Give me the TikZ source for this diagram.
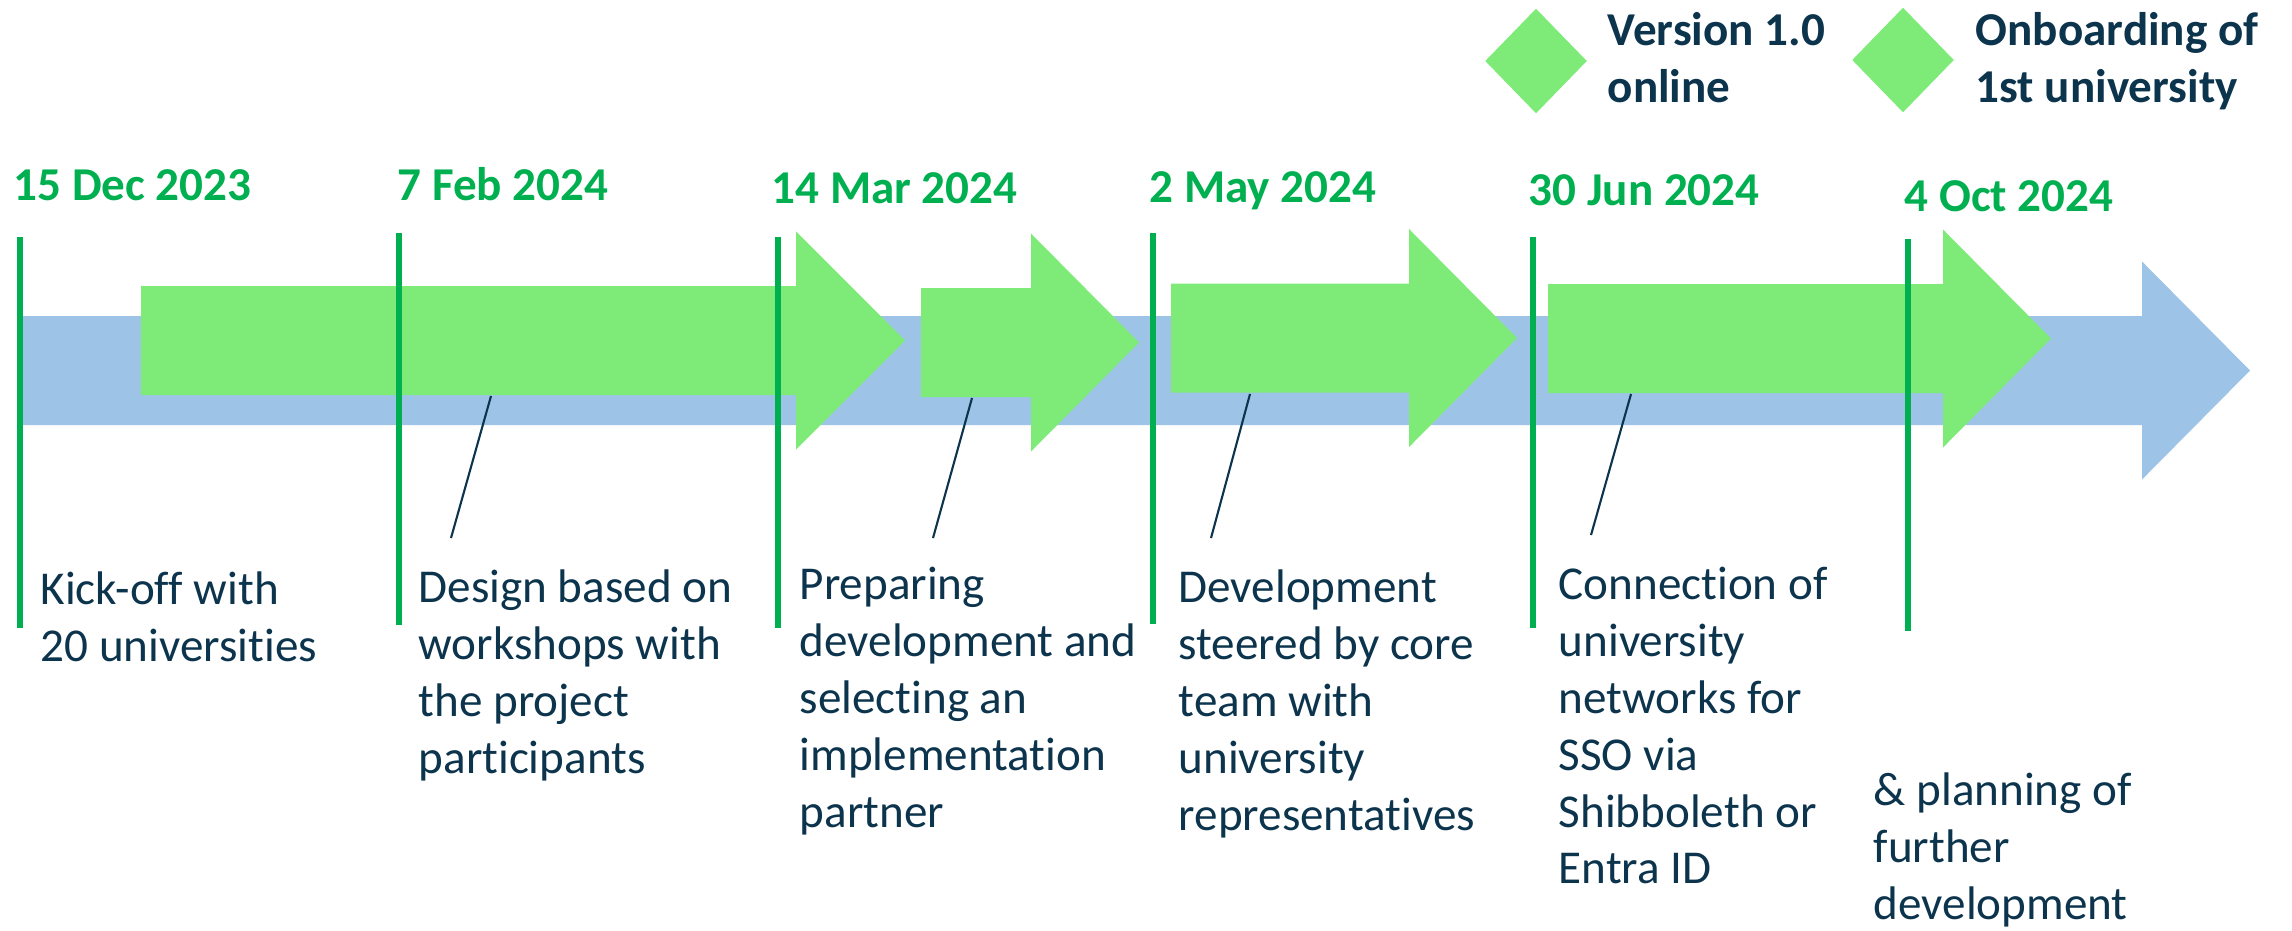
\documentclass[tikz,border=0pt]{standalone}
\usepackage{fontspec}
\setmainfont{Carlito}[Ligatures=NoCommon]
\usetikzlibrary{shapes.geometric}
\definecolor{datecol}{HTML}{00B050}
\definecolor{phasecol}{HTML}{7EEB78}
\definecolor{bandcol}{HTML}{9DC3E6}
\definecolor{navy}{HTML}{0C344D}
\newcommand{\timearrow}[5]{%
  \fill[#1] (#2,#5-54.5) -- (#3,#5-54.5) -- (#3,#5-109) -- (#4,#5) -- (#3,#5+109) -- (#3,#5+54.5) -- (#2,#5+54.5) -- cycle;}
\tikzset{
  datelbl/.style={anchor=base west, inner sep=0pt, text=datecol, font=\fontsize{13.4pt}{16.2pt}\selectfont\bfseries},
  desc/.style={anchor=north west, inner sep=0pt, align=left, text=navy, font=\fontsize{13.4pt}{16.2pt}\selectfont, execute at begin node=\strut},
  legendtxt/.style={desc, font=\fontsize{13.4pt}{16.2pt}\selectfont\bfseries},
  milestone/.style={diamond, fill=phasecol, inner sep=0pt, minimum width=1.02cm, minimum height=1.05cm},
  leader/.style={navy, line width=0.6pt},
  marker/.style={datecol, line width=1.5pt}
}
\begin{document}
\begin{tikzpicture}[x=0.01cm, y=-0.01cm]
    \useasboundingbox (0,0) rectangle (2292,930);
    \timearrow{bandcol}{20}{2142}{2250}{370.5}
    \timearrow{phasecol}{141}{796}{905}{340.5}
    \timearrow{phasecol}{921}{1031}{1139}{342.5}
    \timearrow{phasecol}{1171}{1409}{1517}{338}
    \timearrow{phasecol}{1548}{1943}{2051}{338.5}
    \foreach \x/\ya/\yb in {20/237/628, 399/233/625, 778/237/628, 1153/233/624, 1533/237/628, 1908/239/631}
        \draw[marker] (\x,\ya) -- (\x,\yb);
    \node[datelbl] (d1) at (13,200) {15 Dec 2023};
    \node[datelbl] (d2) at (397,200) {7 Feb 2024};
    \node[datelbl] (d3) at (771,203) {14 Mar 2024};
    \node[datelbl] (d4) at (1149,202) {2 May 2024};
    \node[datelbl] (d5) at (1528,205) {30 Jun 2024};
    \node[datelbl] (d6) at (1904,211) {4 Oct 2024};
    \node[desc] (kickoff) at (40,571) {Kick-off with\\20 universities};
    \node[desc] (design) at (418,569) {Design based on\\workshops with\\the project\\participants};
    \node[desc] (prep) at (799,566) {Preparing\\development and\\selecting an\\implementation\\partner};
    \node[desc] (devel) at (1178,569) {Development\\steered by core\\team with\\university\\representatives};
    \node[desc] (sso) at (1558,566) {Connection of\\university\\networks for\\SSO via\\Shibboleth or\\Entra ID};
    \node[desc] (plan) at (1873,772) {\& planning of\\further\\development};
    \coordinate (p1) at (491,396);
    \coordinate (q1) at (451,538);
    \coordinate (p2) at (972,398);
    \coordinate (q2) at (933,538);
    \coordinate (p3) at (1250,394);
    \coordinate (q3) at (1211,538);
    \coordinate (p4) at (1631,394);
    \coordinate (q4) at (1591,535);
    \draw[leader] (p1) -- (q1);
    \draw[leader] (p2) -- (q2);
    \draw[leader] (p3) -- (q3);
    \draw[leader] (p4) -- (q4);
    \node[milestone] (v1) at (1536,61) {};
    \node[milestone] (onb) at (1903,60) {};
    \node[legendtxt] (v1txt) at (1607,12) {Version 1.0\\online};
    \node[legendtxt] (onbtxt) at (1975,12) {Onboarding of\\1st university};
\end{tikzpicture}
\end{document}
